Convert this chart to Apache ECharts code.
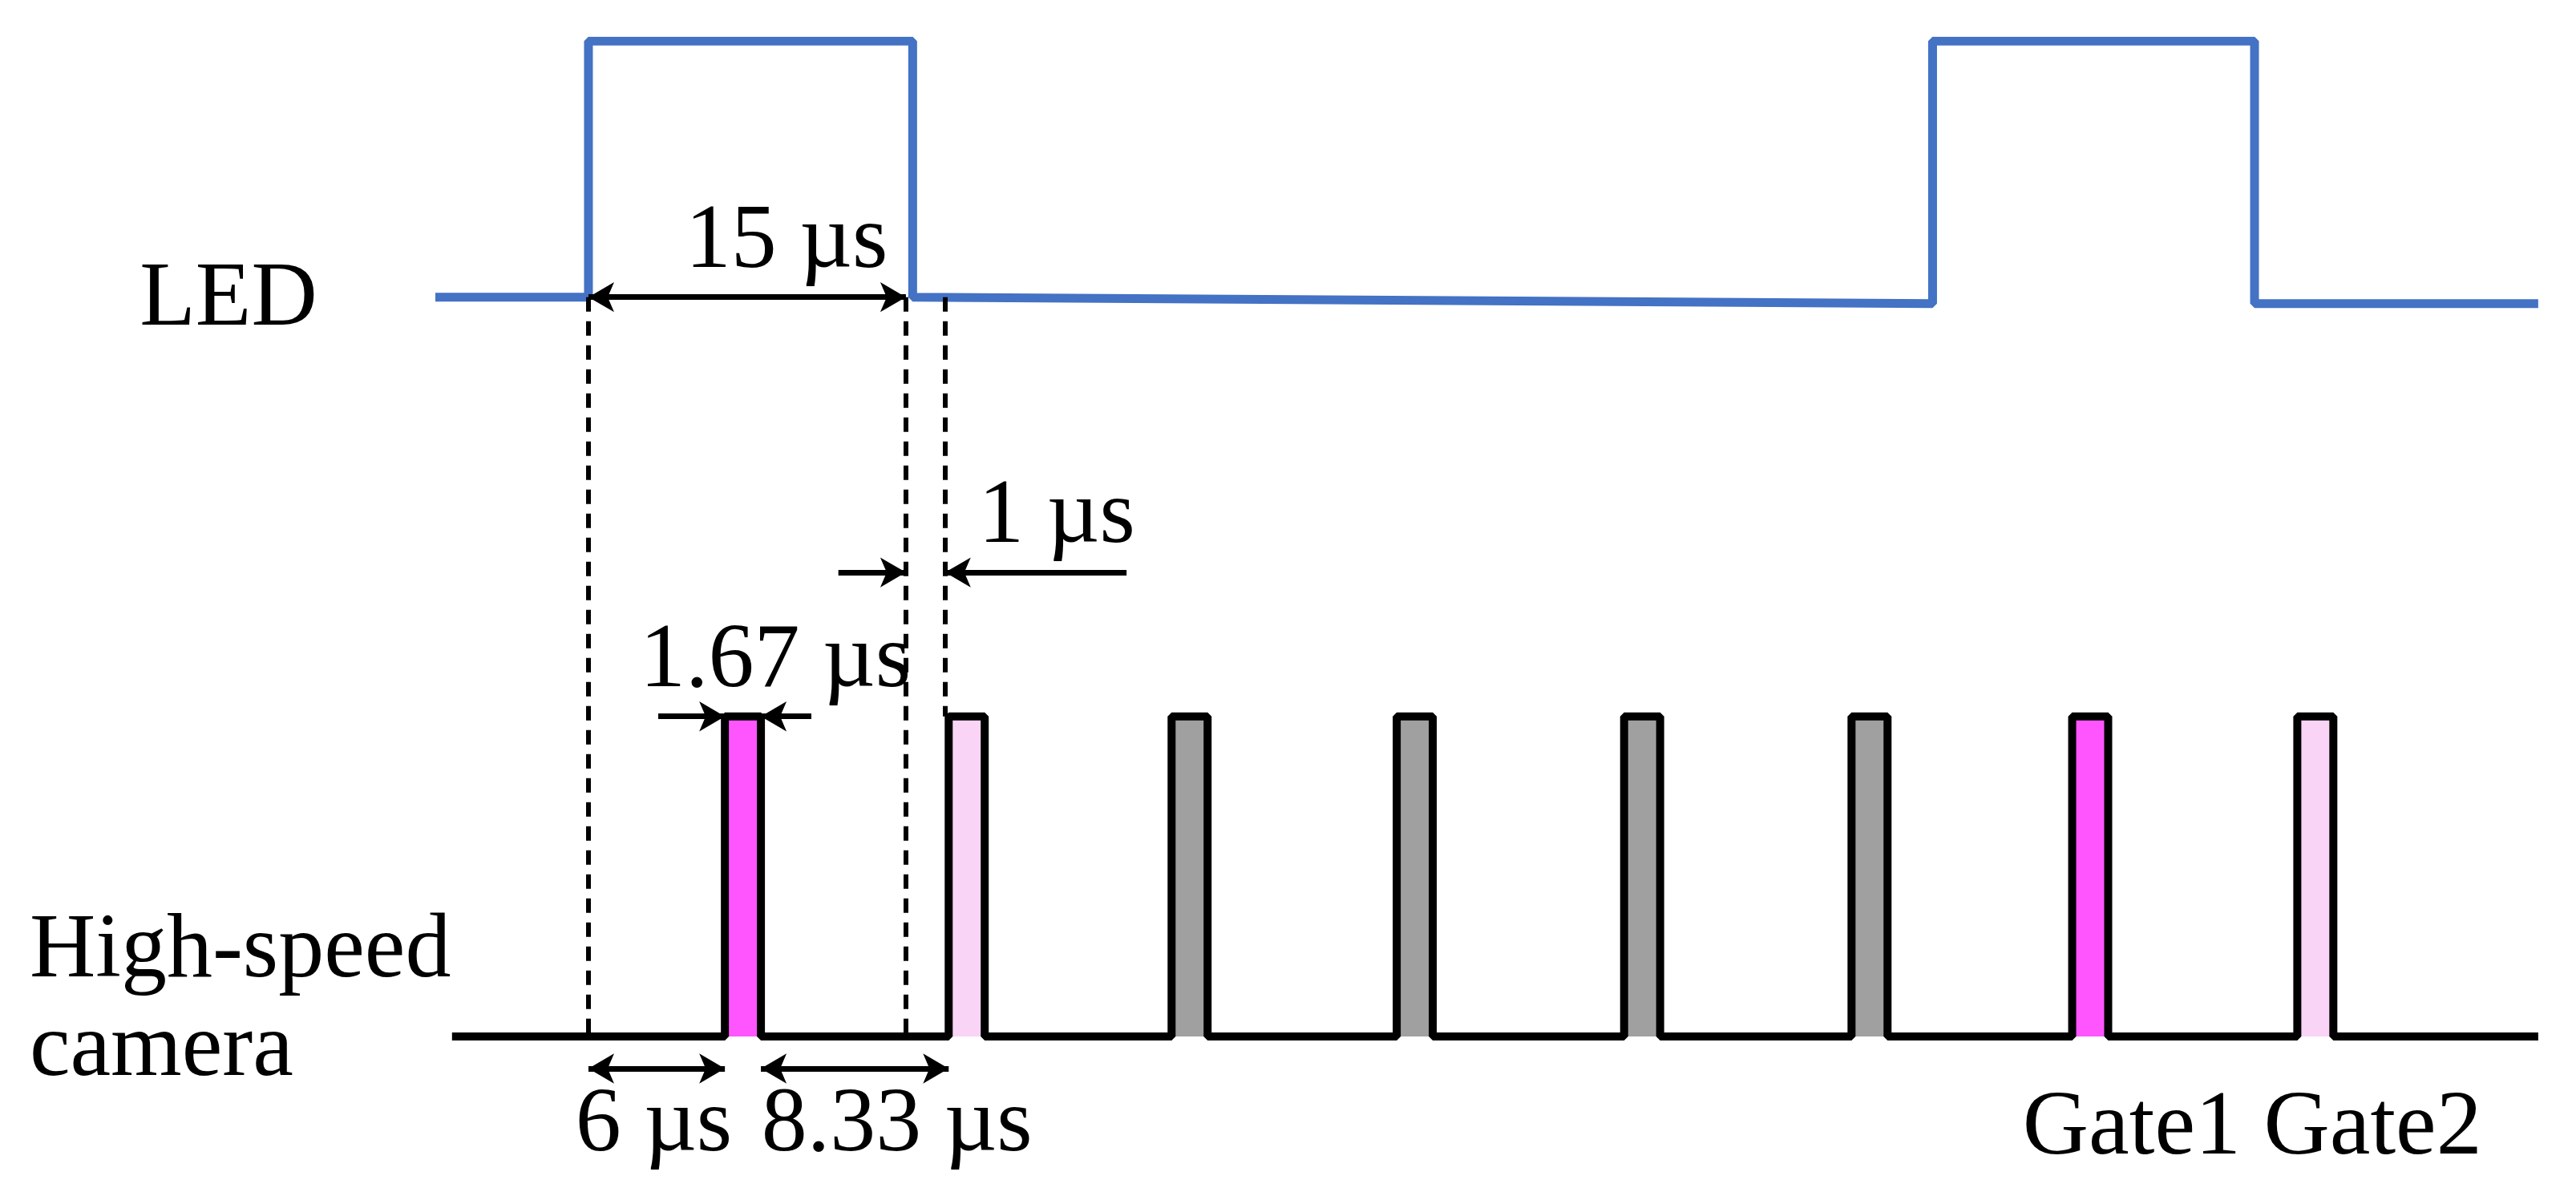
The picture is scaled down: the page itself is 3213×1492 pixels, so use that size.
<!DOCTYPE html>
<html><head><meta charset="utf-8">
<script src="https://cdn.jsdelivr.net/npm/echarts@6/dist/echarts.min.js"></script>
<style>html,body{margin:0;background:#fff}#c{width:3213px;height:1492px}</style>
</head><body><div id="c"></div>
<script>
// time in µs, levels in arbitrary units
var ledT = [-6.8, 0, 0, 14.4, 14.4, 59.7, 59.7, 74, 74, 86.6];
var ledY = [2.31, 2.31, 3.11, 3.11, 2.31, 2.29, 3.11, 3.11, 2.29, 2.29];
var pulseStarts = [6.06, 16.0, 25.9, 35.9, 46.0, 56.1, 65.9, 75.9];
var pulseWidth = 1.6;
var pulseColors = ['#ff55ff', '#f9d4f6', '#a0a0a0', '#a0a0a0', '#a0a0a0', '#a0a0a0', '#ff55ff', '#f9d4f6'];
var camStart = -6.06, camEnd = 86.6, camLow = 0, camHigh = 1;
var dashLines = [[0, 2.31, 0], [14.1, 2.31, 0], [15.84, 2.31, 1]];
var arrows = [ // x1,x2,y,symbols
  [0, 14.1, 2.31, ['arrow','arrow']],
  [11.1, 14.1, 1.45, ['none','arrow']],
  [23.9, 15.84, 1.45, ['none','arrow']],
  [3.1, 6.06, 1.0, ['none','arrow']],
  [9.9, 7.66, 1.0, ['none','arrow']],
  [0, 6.06, -0.1, ['arrow','arrow']],
  [7.66, 16.0, -0.1, ['arrow','arrow']]
];
var labels = [
  ['15 µs', 8.8, 2.48, 'center'],
  ['1 µs', 20.8, 1.62, 'center'],
  ['1.67 µs', 8.3, 1.17, 'center'],
  ['6 µs', 2.9, -0.28, 'center'],
  ['8.33 µs', 13.7, -0.28, 'center'],
  ['Gate1 Gate2', 73.9, -0.29, 'center']
];
var sideLabels = [['LED', 85, 183], ['High-speed', 18, 580], ['camera', 18, 640]];

var ledData = ledT.map(function(t,i){return [t, ledY[i]];});
var camData = [[camStart, camLow]];
pulseStarts.forEach(function(s){
  camData.push([s,camLow],[s,camHigh],[s+pulseWidth,camHigh],[s+pulseWidth,camLow]);
});
camData.push([camEnd, camLow]);

var S = 3213/1568;
var FONT = '114px "Liberation Serif"';
var chart = echarts.init(document.getElementById('c'));
chart.setOption({
  animation:false,
  grid:{left:265*S, right:3213-1545*S, top:25*S, bottom:1492-670*S},
  xAxis:{type:'value', min:-6.8, max:86.6, show:false},
  yAxis:{type:'value', min:-0.2, max:3.11, show:false},
  series:[
    {type:'custom', renderItem:function(p,api){
      var a=api.coord([api.value(0),camHigh]), b=api.coord([api.value(0)+pulseWidth,camLow]);
      return {type:'rect', shape:{x:a[0],y:a[1],width:b[0]-a[0],height:b[1]-a[1]}, style:{fill:pulseColors[p.dataIndex]}};
    }, data:pulseStarts.map(function(s){return [s];}), z:1},
    {type:'line', data:camData, symbol:'none', lineStyle:{color:'#000', width:10}, z:3},
    {type:'line', data:ledData, symbol:'none', lineStyle:{color:'#4472c4', width:11}, z:3},
    {type:'line', data:[], markLine:{silent:true, animation:false, symbol:['none','none'],
      lineStyle:{color:'#000', width:6, type:[18,12]}, label:{show:false},
      data:dashLines.map(function(d){return [{coord:[d[0],d[1]]},{coord:[d[0],d[2]]}];})}},
    {type:'line', data:[], markLine:{silent:true, animation:false, symbolSize:[28,32],
      lineStyle:{color:'#000', width:7, type:'solid'}, label:{show:false},
      data:arrows.map(function(a){return [{coord:[a[0],a[2]], symbol:a[3][0]},{coord:[a[1],a[2]], symbol:a[3][1]}];})}}
  ]
});
var g = [];
labels.forEach(function(l){
  var p = chart.convertToPixel({gridIndex:0},[l[1],l[2]]);
  g.push({type:'text', x:p[0], y:p[1], style:{text:l[0], fill:'#000', font:FONT, align:l[3], verticalAlign:'middle'}});
});
sideLabels.forEach(function(l){
  g.push({type:'text', x:l[1]*S, y:l[2]*S, style:{text:l[0], fill:'#000', font:FONT, align:'left', verticalAlign:'middle'}});
});
chart.setOption({graphic:g});
</script></body></html>
